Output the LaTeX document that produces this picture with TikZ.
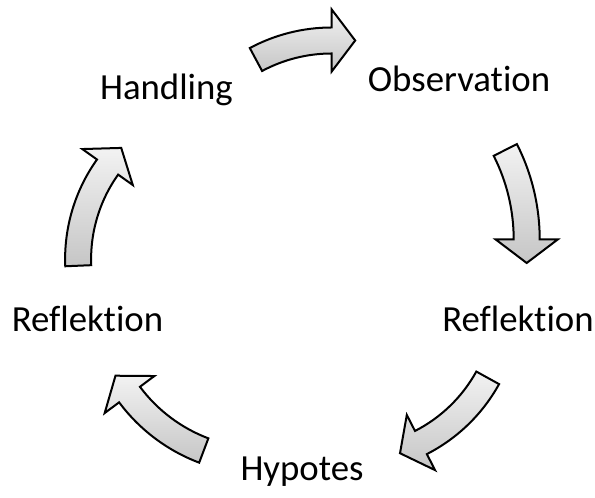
\documentclass[tikz,border=0pt]{standalone}
\usepackage{fontspec}
\setmainfont[Ligatures=CommonOff]{Carlito}
\usetikzlibrary{calc}

% Curved block arrow running clockwise around a centre:
% #1,#2 centre, #3 mid radius, #4 tail angle, #5 angle of the head base
\newcommand{\cyclearrow}[5]{%
  \pgfmathsetmacro\shaftout{#3+13}%
  \pgfmathsetmacro\shaftin{#3-13}%
  \pgfmathsetmacro\barbout{#3+31}%
  \pgfmathsetmacro\barbin{#3-31}%
  \pgfmathsetmacro\tipang{#5-atan(23.5/#3)}%
  \pgfmathsetmacro\tiprad{veclen(#3,23.5)}%
  \draw[cyclebody]
    ([shift={(#4:\shaftout)}]#1,#2)
      arc[start angle=#4, end angle=#5, radius=\shaftout]
    -- ([shift={(#5:\barbout)}]#1,#2)
    -- ([shift={(\tipang:\tiprad)}]#1,#2)
    -- ([shift={(#5:\barbin)}]#1,#2)
    -- ([shift={(#5:\shaftin)}]#1,#2)
      arc[start angle=#5, end angle=#4, radius=\shaftin]
    -- cycle;%
}

\begin{document}
\begin{tikzpicture}[x=0.75pt,y=0.75pt,
  steplabel/.style={font=\fontsize{27.6}{33}\selectfont, anchor=base, inner sep=0pt},
  cyclebody/.style={draw=black, line width=1.5pt, line join=miter,
    top color=gray!10, bottom color=gray!45}]
  \path[use as bounding box] (0,0) rectangle (595,498);

  % stage labels
  \node[steplabel] (handling)    at (166.5,398)   {Handling};
  \node[steplabel] (observation) at (459,406.3)   {Observation};
  \node[steplabel] (reflright)   at (518,166.3)   {Reflektion};
  \node[steplabel] (hypotes)     at (302,17)      {Hypotes};
  \node[steplabel] (reflleft)    at (87.5,166.3)  {Reflektion};

  % arrows between the stages
  \cyclearrow{331.7}{297.2}{160.3}{118.2}{90}
  \cyclearrow{328.8}{258.5}{197.9}{26.9}{0}
  \cyclearrow{348.5}{197}{159}{-28.9}{-62.9}
  \cyclearrow{262.3}{202.4}{165.6}{249.3}{216.7}
  \cyclearrow{236.6}{238.9}{158.5}{182.4}{144.5}
\end{tikzpicture}
\end{document}
